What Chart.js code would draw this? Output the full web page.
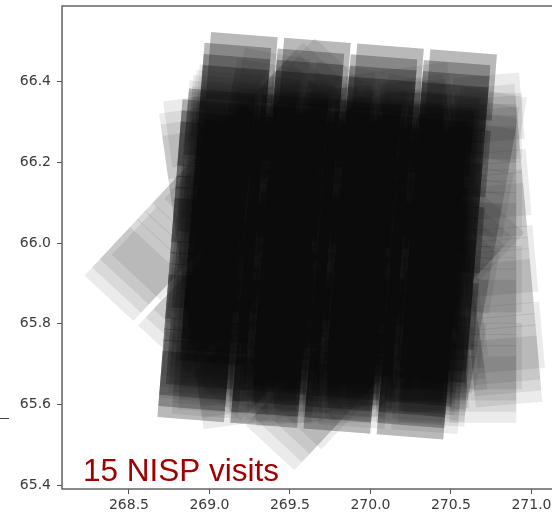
<!DOCTYPE html>
<html>
<head>
<meta charset="utf-8">
<script src="https://cdn.jsdelivr.net/npm/chart.js@4.4.0/dist/chart.umd.min.js"></script>
<style>
  html, body { margin: 0; padding: 0; background: #fff; overflow: hidden; }
  #wrap { position: relative; width: 580px; height: 515px; }
  #dash { position: absolute; left: 0; top: 418px; width: 9px; height: 1px; background: #444; }
</style>
</head>
<body>
<div id="wrap">
  <canvas id="sky" width="580" height="515"></canvas>
  <div id="dash"></div>
</div>
<script>
// pointing of each visit (first dither), rotation in degrees
const visitRa    = [269.825, 269.688, 269.674, 269.722, 270.116, 269.935, 270.050,
                    269.755, 269.798, 269.717, 269.767];
const visitDec   = [66.129, 65.989, 65.998, 66.036, 66.026, 66.060, 66.005,
                    66.049, 66.015, 66.030, 66.000];
const visitAngle = [-4.5, -4.5, -43, 8, 5, -10, 0,
                    -4.5, -3.5, -5.5, -4];
// exposures taken at each dither position
const visitExposures = [4, 4, 1, 1, 1, 1, 1,
                        1, 1, 1, 1];

// dither offsets (arcsec, focal plane frame)
const ditherX = [0, -50, -50, -50];
const ditherY = [0, -100, -200, -300];

// NISP focal plane, 4 x 4 detectors (deg)
const detSize = 0.165;
const detPitchX = 0.181;
const detPitchY = 0.19;
const cosDec = 0.3975;

const xTicks = [268.5, 269.0, 269.5, 270.0, 270.5, 271.0];
const yTicks = [65.4, 65.6, 65.8, 66.0, 66.2, 66.4];
const xMin = 268.0839, xMax = 271.2392;
const yMin = 65.3901, yMax = 66.5877;
const label = "15 NISP visits";

// corners of every detector of a visit, polygons split by null points
function footprint(v) {
  const pts = [];
  const t = visitAngle[v] * Math.PI / 180;
  const c = Math.cos(t), s = Math.sin(t);
  const corners = [[-1, -1], [1, -1], [1, 1], [-1, 1]];
  for (let d = 0; d < ditherX.length; d++) {
    const du = ditherX[d] / 3600, dv = ditherY[d] / 3600;
    for (let e = 0; e < visitExposures[v]; e++) {
      for (let i = 0; i < 4; i++) {
        for (let j = 0; j < 4; j++) {
          const cx = du + (i - 1.5) * detPitchX;
          const cy = dv + (j - 1.5) * detPitchY;
          corners.forEach(([sx, sy]) => {
            const u = cx + sx * detSize / 2;
            const w = cy + sy * detSize / 2;
            pts.push({
              x: visitRa[v] + (u * c - w * s) / cosDec,
              y: visitDec[v] + (u * s + w * c)
            });
          });
          pts.push({ x: null, y: null });
        }
      }
    }
  }
  return pts;
}

const datasets = visitRa.map((ra, v) => ({
  data: footprint(v),
  backgroundColor: "rgba(0,0,0,0.08)",
  borderColor: "rgba(0,0,0,0)",
  borderWidth: 0,
  pointRadius: 0,
  fill: "shape",
  tension: 0,
  spanGaps: false
}));

const frame = {
  id: "frame",
  afterDraw(chart) {
    const { ctx, chartArea: a } = chart;
    ctx.save();
    ctx.strokeStyle = "#585858";
    ctx.lineWidth = 1.4;
    ctx.strokeRect(a.left, a.top, a.right - a.left, a.bottom - a.top);
    ctx.fillStyle = "#a00000";
    ctx.font = "31.5px 'Liberation Sans', Arial, sans-serif";
    ctx.textBaseline = "alphabetic";
    ctx.fillText(label, a.left + 21, a.bottom - 8);
    ctx.restore();
  }
};

const tickFont = { family: "'DejaVu Sans', sans-serif", size: 14 };

new Chart(document.getElementById("sky"), {
  type: "line",
  data: { datasets },
  options: {
    responsive: false,
    animation: false,
    events: [],
    layout: { padding: { top: 6, right: 10, left: 0, bottom: 0 } },
    plugins: { legend: { display: false }, tooltip: { enabled: false } },
    scales: {
      x: {
        type: "linear",
        min: xMin,
        max: xMax,
        afterBuildTicks: s => { s.ticks = xTicks.map(v => ({ value: v })); },
        afterFit: s => { s.height = 26; s.paddingLeft = 0; s.paddingRight = 0; },
        ticks: { font: tickFont, color: "#3a3a3a", padding: 3, maxRotation: 0, autoSkip: false,
                 callback: v => v.toFixed(1) },
        grid: { display: true, drawOnChartArea: false, drawTicks: true, tickLength: 5, color: "#555" },
        border: { display: false }
      },
      y: {
        type: "linear",
        min: yMin,
        max: yMax,
        afterBuildTicks: s => { s.ticks = yTicks.map(v => ({ value: v })); },
        afterFit: s => { s.width = 62; s.paddingTop = 0; s.paddingBottom = 0; },
        ticks: { font: tickFont, color: "#3a3a3a", padding: 6, autoSkip: false,
                 callback: v => v.toFixed(1) },
        grid: { display: true, drawOnChartArea: false, drawTicks: true, tickLength: 5, color: "#555" },
        border: { display: false }
      }
    }
  },
  plugins: [frame]
});
</script>
</body>
</html>
